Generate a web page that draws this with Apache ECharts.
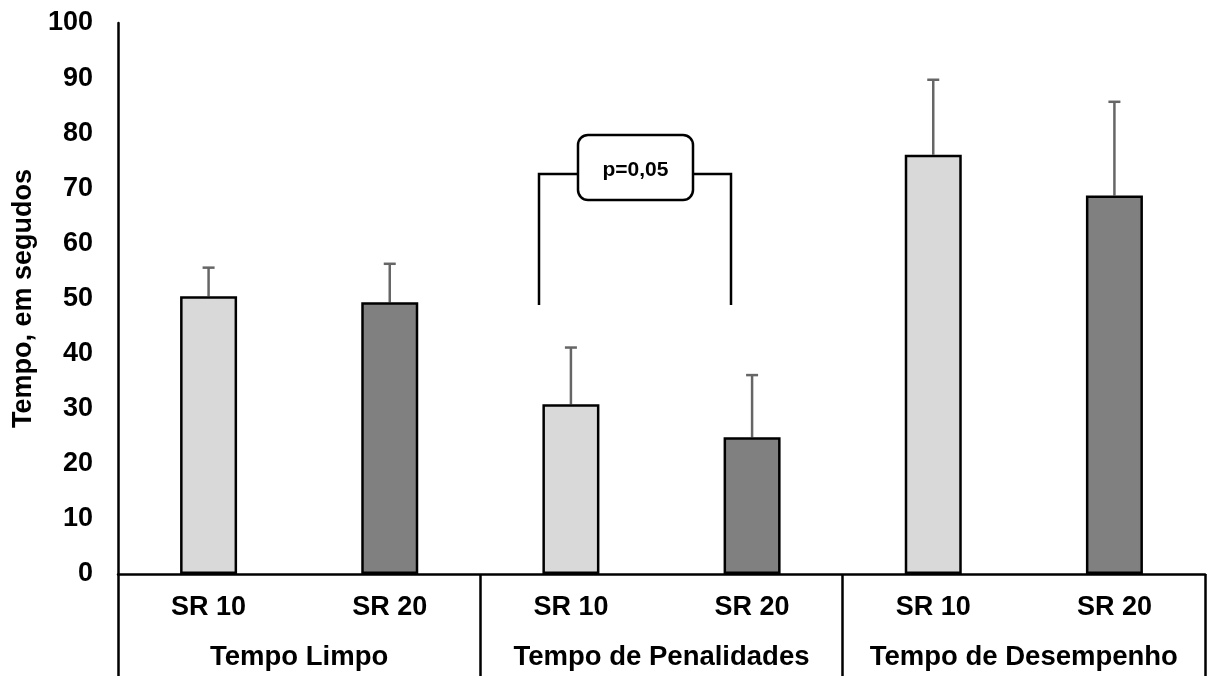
<!DOCTYPE html>
<html>
<head>
<meta charset="utf-8">
<script src="https://cdn.jsdelivr.net/npm/echarts@6/dist/echarts.min.js"></script>
<style>
    html, body { margin: 0; padding: 0; background: #fff; }
    #chart { width: 1207px; height: 676px; }
</style>
</head>
<body>
<div id="chart"></div>
<script>
// categorias e valores
const groups = ['Tempo Limpo', 'Tempo de Penalidades', 'Tempo de Desempenho']
const conditions = ['SR 10', 'SR 20', 'SR 10', 'SR 20', 'SR 10', 'SR 20']
const means = [50.4, 49.3, 30.8, 24.8, 76.1, 68.7]
const errTops = [55.6, 56.3, 41.1, 36.1, 89.7, 85.7]
const yTicks = [0, 100, 10]

const chartDom = document.getElementById('chart')
const myChart = echarts.init(chartDom)

const barColors = ['#d9d9d9', '#808080']
const font = 'Arial, "Liberation Sans", sans-serif'

let option = {
    animation: false,
    grid: {
        left: 118,
        right: 2,
        top: 23,
        bottom: 102
    },
    xAxis: [
        {
            type: 'category',
            data: conditions,
            axisLine: { show: true, lineStyle: { color: '#000', width: 2.5 } },
            axisTick: { show: false },
            axisLabel: {
                interval: 0,
                hideOverlap: false,
                margin: 20,
                color: '#000',
                fontFamily: font,
                fontWeight: 'bold',
                fontSize: 27
            }
        },
        {
            type: 'category',
            data: groups,
            position: 'bottom',
            axisLine: { show: false },
            axisTick: {
                show: true,
                interval: 0,
                length: 104,
                lineStyle: { color: '#000', width: 2.5 }
            },
            axisLabel: {
                interval: 0,
                hideOverlap: false,
                margin: 69,
                color: '#000',
                fontFamily: font,
                fontWeight: 'bold',
                fontSize: 27.5
            }
        }
    ],
    yAxis: {
        type: 'value',
        min: yTicks[0],
        max: yTicks[1],
        interval: yTicks[2],
        name: 'Tempo, em segudos',
        nameLocation: 'middle',
        nameGap: 80,
        nameRotate: 90,
        nameTextStyle: {
            color: '#000',
            fontFamily: font,
            fontWeight: 'bold',
            fontSize: 27
        },
        axisLine: { show: true, lineStyle: { color: '#000', width: 2.5 } },
        axisTick: { show: false },
        splitLine: { show: false },
        axisLabel: {
            margin: 25,
            color: '#000',
            fontFamily: font,
            fontWeight: 'bold',
            fontSize: 27
        }
    },
    series: [
        {
            type: 'bar',
            barWidth: 57,
            data: means.map(function(v, i) {
                return {
                    value: v,
                    itemStyle: {
                        color: barColors[i % 2],
                        borderColor: '#000',
                        borderWidth: 2.5
                    }
                }
            }),
            z: 3
        },
        {
            type: 'custom',
            data: means.map(function(v, i) {
                return [i, v, errTops[i]]
            }),
            renderItem: function(params, api) {
                let base = api.coord([api.value(0), api.value(1)])
                let top = api.coord([api.value(0), api.value(2)])
                let half = 6
                let style = { stroke: '#666', lineWidth: 2.5 }
                return {
                    type: 'group',
                    children: [
                        { type: 'line', shape: { x1: base[0], y1: base[1], x2: top[0], y2: top[1] }, style: style },
                        { type: 'line', shape: { x1: top[0] - half, y1: top[1], x2: top[0] + half, y2: top[1] }, style: style }
                    ]
                }
            },
            z: 2
        }
    ],
    graphic: [
        {
            type: 'polyline',
            shape: { points: [[539, 305], [539, 174], [731, 174], [731, 305]] },
            style: { stroke: '#000', lineWidth: 2.5, fill: null },
            z: 10
        },
        {
            type: 'rect',
            shape: { x: 578, y: 135, width: 115, height: 65, r: 10 },
            style: { fill: '#fff', stroke: '#000', lineWidth: 2.5 },
            z: 11
        },
        {
            type: 'text',
            x: 635.5,
            y: 170,
            style: {
                text: 'p=0,05',
                fill: '#000',
                font: 'bold 21px Arial, "Liberation Sans", sans-serif',
                align: 'center',
                verticalAlign: 'middle'
            },
            z: 12
        }
    ]
}

myChart.setOption(option)
</script>
</body>
</html>
